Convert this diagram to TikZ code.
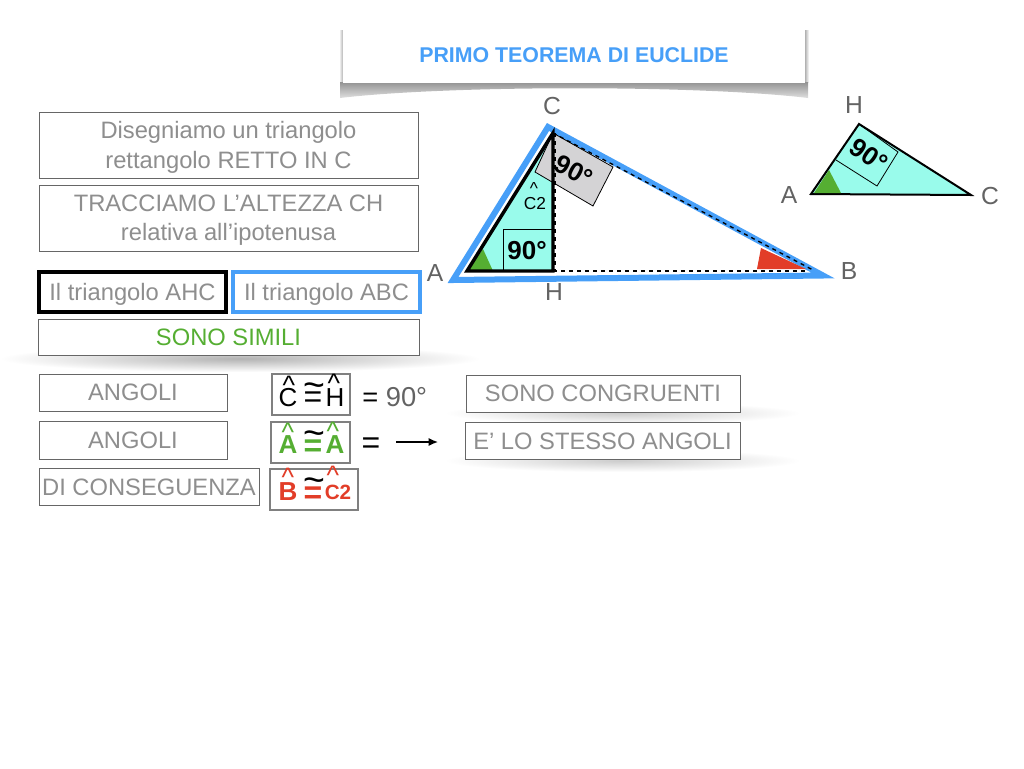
\documentclass[tikz,border=0pt]{standalone}
\usepackage{fontspec}
\setmainfont{Liberation Sans}
\usetikzlibrary{arrows.meta}

\definecolor{azzurro}{HTML}{479FF8}
\definecolor{acqua}{HTML}{99FBEB}
\definecolor{verde}{HTML}{55AE32}
\definecolor{rosso}{HTML}{E23D28}
\definecolor{testo}{HTML}{8E8E8E}
\definecolor{lettera}{HTML}{636363}
\definecolor{grigio}{HTML}{D4D3D5}

\tikzset{
    box/.style={draw=gray!80!black,line width=0.75pt,fill=white,inner sep=0pt,text=testo,
        font=\fontsize{17.8}{22}\selectfont,align=center,text depth=0pt},
    lbl/.style={text=lettera,font=\fontsize{18.5}{22}\selectfont,inner sep=0pt},
    ang/.style={inner sep=0pt,font=\fontsize{19.5}{20}\selectfont},
    hat/.style={inner sep=0pt,font=\fontsize{20}{20}\selectfont},
    strong/.style={inner sep=0pt,font=\bfseries\fontsize{19.5}{20}\selectfont},
    symbox/.style={draw=gray,line width=1.5pt,fill=white,inner sep=0pt}
}

\begin{document}
\begin{tikzpicture}[x=0.75pt,y=-0.75pt]
    \useasboundingbox (0,0) rectangle (1024,768);

    % soft shadows
    \shade[inner color=gray!60,outer color=white] (0,345) rectangle (480,372);
    \shade[inner color=gray!40,outer color=white] (445,402) rectangle (800,424);
    \shade[inner color=gray!40,outer color=white] (445,449) rectangle (800,472);
    \shade[left color=white,right color=gray!60] (339,30) rectangle (343,82);
    \shade[left color=gray!60,right color=white] (805,30) rectangle (809,82);
    \shade[top color=gray!85,bottom color=gray!25] (340,82) -- (808,82) -- (808,98)
        .. controls (700,85) and (450,85) .. (340,98) -- cycle;

    % text boxes
    \node[box,minimum width=462*0.75pt,minimum height=55*0.75pt,text=azzurro,
        font=\bfseries\fontsize{16}{20}\selectfont,draw=none] (titolo) at (574,55.5) {PRIMO TEOREMA DI EUCLIDE};
    \node[box,minimum width=379*0.75pt,minimum height=66*0.75pt] (disegno) at (228.5,145)
        {Disegniamo un triangolo\\rettangolo RETTO IN C};
    \node[box,minimum width=379*0.75pt,minimum height=66*0.75pt] (altezza) at (228.5,218)
        {TRACCIAMO L’ALTEZZA CH\\relativa all’ipotenusa};
    \node[box,draw=black,line width=3pt,minimum width=187*0.75pt,minimum height=40*0.75pt] (ahc) at (132.5,292) {Il triangolo AHC};
    \node[box,draw=azzurro,line width=3pt,minimum width=187*0.75pt,minimum height=40*0.75pt] (abc) at (326.5,292) {Il triangolo ABC};
    \node[box,text=verde,minimum width=381*0.75pt,minimum height=36*0.75pt] (simili) at (228.5,337) {SONO SIMILI};
    \node[box,minimum width=188*0.75pt,minimum height=37*0.75pt] (angoli1) at (133,392.5) {ANGOLI};
    \node[box,minimum width=188*0.75pt,minimum height=38*0.75pt] (angoli2) at (133,440) {ANGOLI};
    \node[box,minimum width=220*0.75pt,minimum height=37*0.75pt] (conseguenza) at (149,487) {DI CONSEGUENZA};
    \node[box,minimum width=274*0.75pt,minimum height=37*0.75pt] (congruenti) at (603,393.5) {SONO CONGRUENTI};
    \node[box,minimum width=275*0.75pt,minimum height=37*0.75pt] (stesso) at (602.5,441) {E’ LO STESSO ANGOLI};

    % big triangle
    \coordinate (A) at (453,280);
    \coordinate (C) at (548,127);
    \coordinate (B) at (823,275.5);
    \coordinate (a) at (467,271);
    \coordinate (c) at (553,133);
    \coordinate (h) at (553,271);
    \draw[azzurro,line width=4.5pt,fill=white] (A) -- (C) -- (B) -- cycle;
    \fill[acqua] (a) -- (c) -- (h) -- cycle;
    \fill[verde] (a) -- (483,249) -- (493,271) -- cycle;
    \draw[black,line width=0.6pt,fill=grigio] (c) -- (613,167) -- (593,206) -- (535,172) -- cycle;
    \fill[rosso] (757,269) -- (761,248) -- (806,269) -- cycle;
    \draw[black,line width=0.6pt] (503,271) -- (503,229) -- (553,229);
    \draw[black,line width=1pt,dashed] (c) -- (813,270);
    \draw[black,line width=1pt,dashed] (h) -- (808,271);
    \draw[black,line width=1pt,dashed] ([xshift=1.5pt]c) -- ([xshift=1.5pt]h);
    \draw[black,line width=2.6pt,line join=miter] (a) -- (c) -- (h) -- cycle;
    \node[strong,rotate=-28] (gradi1) at (574,171) {90°};
    \node[strong] (gradi2) at (527,251) {90°};
    \node[hat,font=\fontsize{13}{14}\selectfont] (hatc) at (534,189) {\^{}};
    \node[inner sep=0pt,font=\fontsize{13}{14}\selectfont] (cdue) at (535,204) {C2};
    \node[lbl] (lA) at (435,273) {A};
    \node[lbl] (lC) at (552,106) {C};
    \node[lbl] (lB) at (849,271) {B};
    \node[lbl] (lH) at (554,292) {H};

    % small triangle
    \coordinate (a2) at (811,194);
    \coordinate (h2) at (859,124);
    \coordinate (c2) at (971,195);
    \draw[black,line width=1.5pt,fill=acqua] (a2) -- (h2) -- (c2) -- cycle;
    \fill[verde] (814,193) -- (829,170) -- (841,193) -- cycle;
    \draw[black,line width=0.6pt] (h2) -- (898,152) -- (877,186) -- (836,160);
    \node[strong,rotate=-35] (gradi3) at (869,155) {90°};
    \node[lbl] (lA2) at (789,195) {A};
    \node[lbl] (lH2) at (854,105) {H};
    \node[lbl] (lC2) at (990,196) {C};

    % symbol boxes
    \node[symbox,minimum width=78*0.75pt,minimum height=41*0.75pt] (riga1) at (310.5,394) {};
    \node[symbox,minimum width=79*0.75pt,minimum height=41*0.75pt] (riga2) at (310,442) {};
    \node[symbox,minimum width=88*0.75pt,minimum height=41*0.75pt] (riga3) at (314,489) {};

    \foreach \n/\x/\y/\t in {c1/288/398/C,h1/335/398/H}
    {\node[ang] (\n) at (\x,\y) {\t};}
    \foreach \n/\x/\y/\t in {a3/288/445/A,a4/335/445/A}
    {\node[strong,text=verde] (\n) at (\x,\y) {\t};}
    \node[strong,text=rosso] (b1) at (288,492) {B};
    \node[strong,text=rosso,font=\bfseries\fontsize{15.5}{16}\selectfont] (c3) at (338,492) {C2};

    \foreach \n/\x/\y/\col in {k1/289/385/black,k2/334/383/black,k3/288/432/verde,k4/333/431/verde,k5/288/477/rosso,k6/333/475/rosso}
    {\node[hat,text=\col] (\n) at (\x,\y) {\^{}};}

    \foreach \n/\y in {t1/390,t2/438,t3/485}
    {\node[ang,font=\fontsize{28}{28}\selectfont] (\n) at (314,\y) {\char`\~};}
    \node[ang,font=\fontsize{24}{24}\selectfont] (u1) at (313,400) {=};
    \foreach \n/\y/\col in {u2/448/verde,u3/495/rosso}
    {\node[strong,font=\bfseries\fontsize{24}{24}\selectfont,text=\col] (\n) at (313,\y) {=};}

    \node[ang,font=\fontsize{20.5}{20}\selectfont,text=lettera,anchor=west] (novanta) at (362,397) {\textcolor{black}{=} 90°};
    \node[ang,font=\fontsize{24}{24}\selectfont] (uguale) at (371,446) {=};
    \coordinate (freccia1) at (396,442);
    \coordinate (freccia2) at (438,442);
    \draw[-{Latex[length=7pt,width=6pt]},line width=1pt] (freccia1) -- (freccia2);
\end{tikzpicture}
\end{document}
